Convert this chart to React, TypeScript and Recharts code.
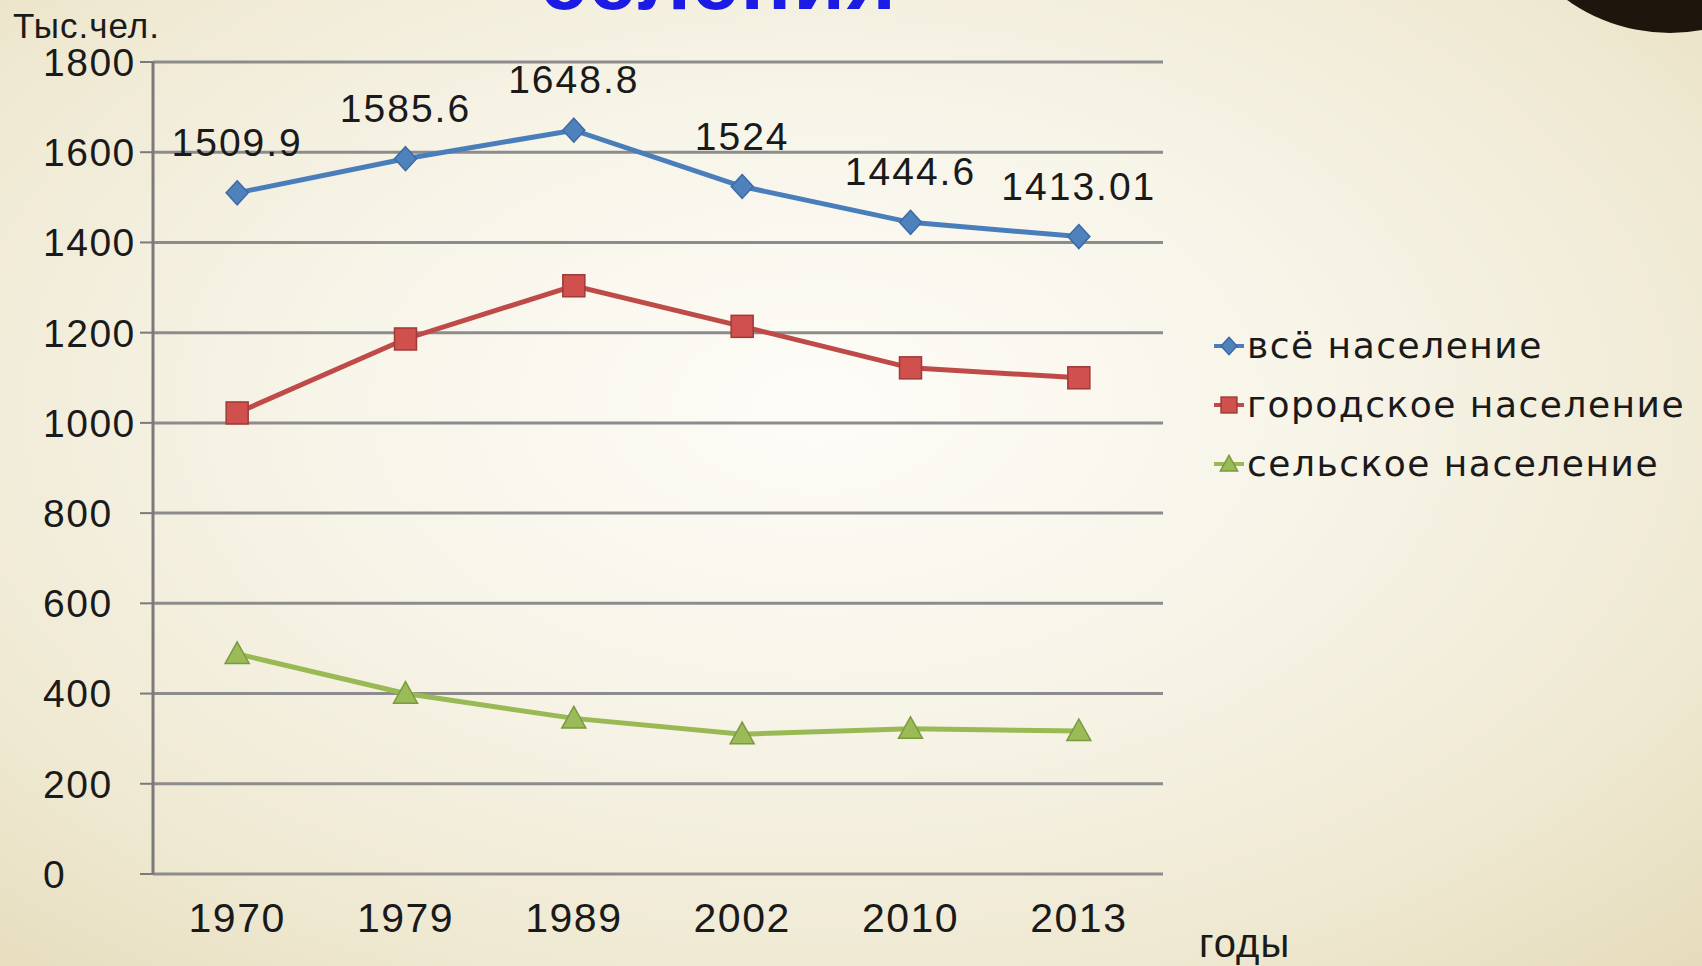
import React from 'react';
import { LineChart, Line, XAxis, YAxis, CartesianGrid, Legend, LabelList } from 'recharts';

const years = ['1970', '1979', '1989', '2002', '2010', '2013'];
const totalPopulation = [1509.9, 1585.6, 1648.8, 1524, 1444.6, 1413.01];
const urbanPopulation = [1022, 1186, 1304, 1214, 1122, 1100];
const ruralPopulation = [488, 400, 345, 310, 322, 317];
const yTicks = [0, 200, 400, 600, 800, 1000, 1200, 1400, 1600, 1800];
const boundaryTicks = [0, 1, 2, 3, 4, 5, 6];
const seriesNames = {
  total: 'всё население',
  urban: 'городское население',
  rural: 'сельское население',
};
const yAxisTitle = 'Тыс.чел.';
const xAxisTitle = 'годы';
const titleFragment = 'селения';

const data = years.map((year, i) => ({
  year,
  total: totalPopulation[i],
  urban: urbanPopulation[i],
  rural: ruralPopulation[i],
}));

const COLORS = {
  total: { fill: '#4F81BD', stroke: '#3B6BA5', line: '#4A7EBB' },
  urban: { fill: '#D0504D', stroke: '#9E3A38', line: '#BE4B48' },
  rural: { fill: '#9BBB59', stroke: '#7A9A3E', line: '#98B954' },
};

const Marker = ({ kind, cx, cy, s = 1 }: { kind: string; cx: number; cy: number; s?: number }) => {
  if (cx == null || cy == null) return null;
  if (kind === 'total') {
    const h = 12 * s;
    const w = 11 * s;
    return (
      <path
        d={`M${cx},${cy - h}L${cx + w},${cy}L${cx},${cy + h}L${cx - w},${cy}Z`}
        fill={COLORS.total.fill}
        stroke={COLORS.total.stroke}
        strokeWidth={1.5}
      />
    );
  }
  if (kind === 'urban') {
    const h = 11 * s;
    return (
      <rect
        x={cx - h}
        y={cy - h}
        width={2 * h}
        height={2 * h}
        fill={COLORS.urban.fill}
        stroke={COLORS.urban.stroke}
        strokeWidth={1.5}
      />
    );
  }
  const h = 12 * s;
  return (
    <path
      d={`M${cx},${cy - h}L${cx + h},${cy + h * 0.8}L${cx - h},${cy + h * 0.8}Z`}
      fill={COLORS.rural.fill}
      stroke={COLORS.rural.stroke}
      strokeWidth={1.5}
    />
  );
};

const makeDot = (kind: string) => (props: any) => (
  <Marker key={`${kind}-${props.index}`} kind={kind} cx={props.cx} cy={props.cy} />
);

const renderTotalLabel = (props: any) => {
  const { x, y, value } = props;
  return (
    <text
      x={x}
      y={y - 37}
      textAnchor="middle"
      fontFamily="Liberation Sans, Arial, sans-serif"
      fontSize={39}
      letterSpacing={2}
      fill="#1a1a1a"
    >
      {String(value)}
    </text>
  );
};

const YTick = (props: any) => {
  const { x, y, payload } = props;
  return (
    <text
      x={x - 94}
      y={y}
      dy="0.355em"
      textAnchor="start"
      fontFamily="Liberation Sans, Arial, sans-serif"
      fontSize={39}
      letterSpacing={1.5}
      fill="#1a1a1a"
    >
      {payload.value}
    </text>
  );
};

const renderLegend = (props: any) => {
  const { payload } = props;
  return (
    <div style={{ fontFamily: 'DejaVu Sans, sans-serif', fontSize: 36, letterSpacing: 1.5, color: '#1a1a1a' }}>
      {(payload || []).map((entry: any) => {
        const kind = entry.dataKey as string;
        const col = (COLORS as any)[kind];
        return (
          <div key={kind} style={{ display: 'flex', alignItems: 'center', height: 59, whiteSpace: 'nowrap' }}>
            <svg width={30} height={26} style={{ marginRight: 3 }}>
              <line x1={0} y1={13} x2={30} y2={13} stroke={col.line} strokeWidth={4} />
              <Marker kind={kind} cx={15} cy={13} s={0.72} />
            </svg>
            <span>{entry.value}</span>
          </div>
        );
      })}
    </div>
  );
};

export default function App() {
  return (
    <div
      style={{
        position: 'absolute',
        left: 0,
        top: 0,
        width: 1702,
        height: 966,
        overflow: 'hidden',
        background:
          'radial-gradient(ellipse 75% 80% at 48% 42%, #FDFCF7 0%, #F7F4E8 40%, #EFE9D2 75%, #E6DCBC 100%)',
      }}
    >
      <svg width={1702} height={966} style={{ position: 'absolute', left: 0, top: 0 }}>
        <circle cx={1670} cy={-144} r={177} fill="#1E150D" />
        <text
          x={540}
          y={9}
          fontFamily="Liberation Sans, Arial, sans-serif"
          fontWeight="bold"
          fontSize={84}
          fill="#1B1BE3"
          letterSpacing={2}
        >
          {titleFragment}
        </text>
        <text
          x={13}
          y={38}
          fontFamily="Liberation Sans, Arial, sans-serif"
          fontSize={35}
          fill="#1a1a1a"
          letterSpacing={1}
        >
          {yAxisTitle}
        </text>
        <text
          x={1199}
          y={957}
          fontFamily="Liberation Sans, Arial, sans-serif"
          fontSize={40}
          fill="#1a1a1a"
          letterSpacing={1}
        >
          {xAxisTitle}
        </text>
      </svg>
      <div style={{ position: 'absolute', left: 0, top: 0 }}>
        <LineChart
          width={1702}
          height={966}
          data={data}
          margin={{ top: 62, right: 539, bottom: 32, left: 53 }}
        >
          <CartesianGrid vertical={false} stroke="#8C8C8C" strokeWidth={3} />
          <XAxis
            xAxisId="bounds"
            type="number"
            domain={[0, 6]}
            ticks={boundaryTicks}
            allowDataOverflow
            tick={false}
            tickSize={11}
            height={0}
            axisLine={{ stroke: '#6E6E6E', strokeWidth: 4 }}
            tickLine={{ stroke: '#6E6E6E', strokeWidth: 2 }}
          />
          <XAxis
            xAxisId="cat"
            dataKey="year"
            scale="band"
            axisLine={false}
            tickLine={false}
            tickSize={0}
            tickMargin={29}
            height={60}
            tick={{ fontFamily: 'Liberation Sans, Arial, sans-serif', fontSize: 41, fill: '#1a1a1a', letterSpacing: 1.5 }}
            interval={0}
          />
          <YAxis
            domain={[0, 1800]}
            ticks={yTicks}
            width={100}
            tickSize={13}
            tickMargin={3}
            interval={0}
            axisLine={{ stroke: '#7A7A7A', strokeWidth: 3 }}
            tickLine={{ stroke: '#7A7A7A', strokeWidth: 2 }}
            tick={<YTick />}
          />
          <Legend
            layout="vertical"
            align="center"
            verticalAlign="middle"
            content={renderLegend}
            wrapperStyle={{ left: 1214, top: 316, width: 486, height: 180 }}
          />
          <Line
            xAxisId="cat"
            type="linear"
            dataKey="total"
            name={seriesNames.total}
            stroke={COLORS.total.line}
            strokeWidth={5}
            dot={makeDot('total')}
            activeDot={false}
            isAnimationActive={false}
          >
            <LabelList dataKey="total" content={renderTotalLabel} />
          </Line>
          <Line
            xAxisId="cat"
            type="linear"
            dataKey="urban"
            name={seriesNames.urban}
            stroke={COLORS.urban.line}
            strokeWidth={5}
            dot={makeDot('urban')}
            activeDot={false}
            isAnimationActive={false}
          />
          <Line
            xAxisId="cat"
            type="linear"
            dataKey="rural"
            name={seriesNames.rural}
            stroke={COLORS.rural.line}
            strokeWidth={5}
            dot={makeDot('rural')}
            activeDot={false}
            isAnimationActive={false}
          />
        </LineChart>
      </div>
    </div>
  );
}
